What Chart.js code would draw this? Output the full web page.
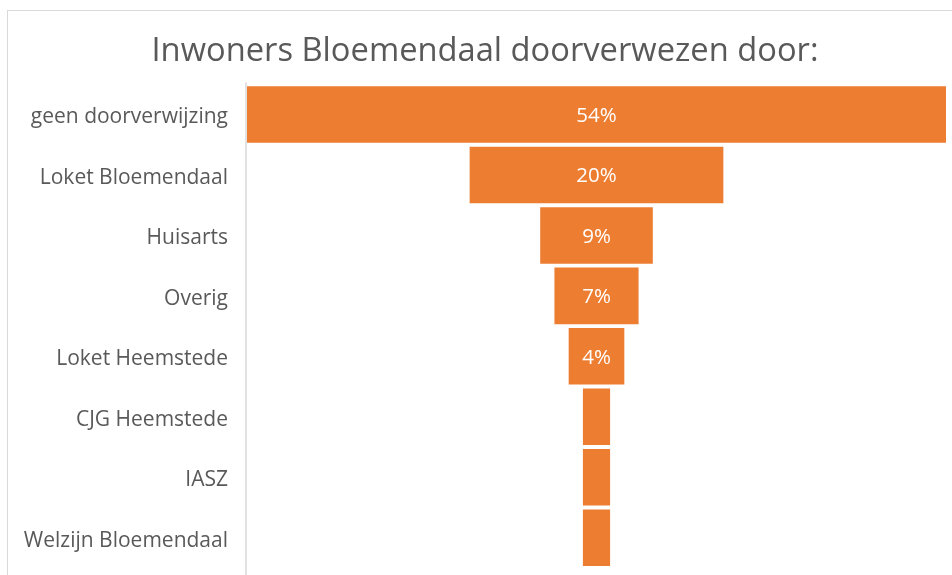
<!DOCTYPE html>
<html>
<head>
<meta charset="utf-8">
<script src="https://cdn.jsdelivr.net/npm/chart.js@4/dist/chart.umd.min.js"></script>
<style>
html,body{margin:0;padding:0;background:#fff;overflow:hidden;}
#frame{position:absolute;left:7px;top:10px;width:1200px;height:1200px;border:1px solid #d9d9d9;box-sizing:border-box;}
#wrap{position:absolute;left:0;top:0;width:952px;height:575px;}
</style>
</head>
<body>
<div id="frame"></div>
<div id="wrap"><canvas id="c" width="952" height="575"></canvas></div>
<script>
const categories = ["geen doorverwijzing","Loket Bloemendaal","Huisarts","Overig","Loket Heemstede","CJG Heemstede","IASZ","Welzijn Bloemendaal"];
const values = [54, 19.6, 8.7, 6.5, 4.3, 2.1, 2.1, 2.1];
const titleText = "Inwoners Bloemendaal doorverwezen door:";

const maxV = Math.max(...values);
const mid = maxV / 2;
const floating = values.map(v => [mid - v/2, mid + v/2]);

const FONT = "'Open Sans', sans-serif";
const GREY = "#595959";

const labelPlugin = {
  id: 'barLabels',
  afterDatasetsDraw(chart) {
    const ctx = chart.ctx;
    const meta = chart.getDatasetMeta(0);
    ctx.save();
    ctx.fillStyle = '#ffffff';
    ctx.font = "20.5px " + FONT;
    ctx.textAlign = 'center';
    ctx.textBaseline = 'middle';
    meta.data.forEach((bar, i) => {
      const v = values[i];
      if (v < 3) return;
      const p = bar.getProps(['x','base','y'], true);
      ctx.fillText(Math.round(v) + '%', (p.x + p.base)/2, p.y + 1.5);
    });
    ctx.restore();
  }
};

const axisLinePlugin = {
  id: 'axisLine',
  afterDraw(chart) {
    const ctx = chart.ctx;
    const x = chart.chartArea.left - 1;
    ctx.save();
    ctx.strokeStyle = '#d9d9d9';
    ctx.lineWidth = 1.5;
    ctx.beginPath();
    ctx.moveTo(x, chart.chartArea.top - 2);
    ctx.lineTo(x, chart.height);
    ctx.stroke();
    ctx.restore();
  }
};

new Chart(document.getElementById('c'), {
  type: 'bar',
  data: {
    labels: categories,
    datasets: [{
      data: floating,
      backgroundColor: '#ED7D31',
      borderWidth: 0,
      barPercentage: 0.935,
      categoryPercentage: 1.0
    }]
  },
  options: {
    indexAxis: 'y',
    responsive: false,
    animation: false,
    layout: { padding: { left: 24, right: 6, top: 0, bottom: 7 } },
    plugins: {
      legend: { display: false },
      tooltip: { enabled: false },
      title: {
        display: true,
        text: titleText,
        color: GREY,
        font: { family: FONT, size: 32.7, weight: 'normal' },
        padding: { top: 32, bottom: 13 }
      }
    },
    scales: {
      x: {
        display: false,
        min: 0,
        max: maxV
      },
      y: {
        grid: { display: false, drawTicks: false },
        border: { display: false },
        ticks: {
          color: GREY,
          font: { family: FONT, size: 21 },
          padding: 19,
          labelOffset: 3
        },
        afterFit(scale) {
          scale.width = 223;
          scale.paddingTop = 0;
          scale.paddingBottom = 0;
        }
      }
    }
  },
  plugins: [labelPlugin, axisLinePlugin]
});
</script>
</body>
</html>
